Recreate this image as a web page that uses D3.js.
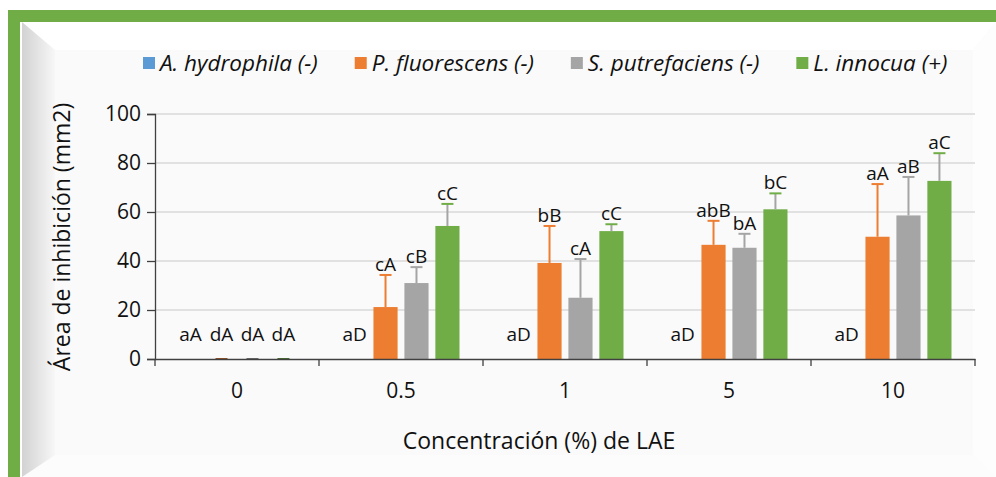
<!DOCTYPE html>
<html>
<head>
<meta charset="utf-8">
<script src="https://cdn.jsdelivr.net/npm/d3@7"></script>
<style>
  body { margin: 0; background: #fff; }
  svg { display: block; font-family: "Open Sans", sans-serif; }
</style>
</head>
<body>
<div id="chart"></div>
<script>
// concentrations of LAE (%)
const categories = ["0", "0.5", "1", "5", "10"];
const seriesNames = ["A. hydrophila (-)", "P. fluorescens (-)", "S. putrefaciens (-)", "L. innocua (+)"];

// mean inhibition area (mm2)
const hydrophila = [0, 0, 0, 0, 0];
const fluorescens = [0, 21.2, 39.2, 46.6, 49.9];
const putrefaciens = [0, 31.0, 25.0, 45.4, 58.6];
const innocua = [0, 54.3, 52.2, 61.1, 72.7];

// standard deviation (blue series has no error bars)
const fluorescensErr = [0, 13.1, 15.1, 9.8, 21.5];
const putrefaciensErr = [0, 6.5, 15.8, 5.7, 15.7];
const innocuaErr = [0, 9.0, 2.8, 6.5, 11.3];

// significance letters
const hydrophilaLab = ["aA", "aD", "aD", "aD", "aD"];
const fluorescensLab = ["dA", "cA", "bB", "abB", "aA"];
const putrefaciensLab = ["dA", "cB", "cA", "bA", "aB"];
const innocuaLab = ["dA", "cC", "cC", "bC", "aC"];

const yTicks = [0, 20, 40, 60, 80, 100];

const colors = ["#5b9bd5", "#ed7d31", "#a5a5a5", "#70ad47"];
const errColors = [null, "#ed7d31", "#a5a5a5", "#a5a5a5"];
const capColors = [null, "#ed7d31", "#a5a5a5", "#70ad47"];

const series = [
  { values: hydrophila, err: null, labels: hydrophilaLab },
  { values: fluorescens, err: fluorescensErr, labels: fluorescensLab },
  { values: putrefaciens, err: putrefaciensErr, labels: putrefaciensLab },
  { values: innocua, err: innocuaErr, labels: innocuaLab }
];

const width = 996, height = 477;
const plot = { left: 155, right: 975, top: 114, bottom: 359 };

const svg = d3.select("#chart").append("svg")
  .attr("width", width)
  .attr("height", height);

// ---- frame / background ----
const defs = svg.append("defs");
const grad = defs.append("linearGradient").attr("id", "leftBevel")
  .attr("x1", "0").attr("x2", "1").attr("y1", "0").attr("y2", "0");
grad.append("stop").attr("offset", "0%").attr("stop-color", "#d2d2d2");
grad.append("stop").attr("offset", "100%").attr("stop-color", "#f7f7f7");

svg.append("rect").attr("x", 0).attr("y", 0).attr("width", width).attr("height", height).attr("fill", "#fff");
// panel + bevels
svg.append("rect").attr("x", 22).attr("y", 22).attr("width", width - 22).attr("height", height - 22).attr("fill", "#fafafa");
svg.append("polygon").attr("points", "22,22 996,22 973,50 55,50").attr("fill", "#ffffff");
svg.append("polygon").attr("points", "973,50 996,22 996,477 973,455").attr("fill", "#fdfdfd");
svg.append("polygon").attr("points", "55,455 973,455 996,477 22,477").attr("fill", "#fcfcfc");
svg.append("polygon").attr("points", "22,22 55,50 55,455 22,477").attr("fill", "url(#leftBevel)");
// green frame
svg.append("rect").attr("x", 8).attr("y", 10).attr("width", width - 8).attr("height", 12).attr("fill", "#70ad47");
svg.append("rect").attr("x", 8).attr("y", 10).attr("width", 12).attr("height", height - 10).attr("fill", "#70ad47");

// ---- scales ----
const x0 = d3.scaleBand().domain(categories).range([plot.left, plot.right]).paddingInner(0).paddingOuter(0);
const x1 = d3.scaleBand().domain(d3.range(series.length)).range([23.5, x0.bandwidth() - 23.5]).paddingInner(0.22);
const y = d3.scaleLinear().domain([0, 100]).range([plot.bottom, plot.top]);

// gridlines
svg.append("g")
  .selectAll("line")
  .data(yTicks.filter(d => d > 0))
  .join("line")
  .attr("x1", plot.left).attr("x2", plot.right)
  .attr("y1", d => y(d)).attr("y2", d => y(d))
  .attr("stroke", "#d9d9d9").attr("stroke-width", 1.5);

// y axis
const yAxis = svg.append("g")
  .attr("transform", `translate(${plot.left},0)`)
  .call(d3.axisLeft(y).tickValues(yTicks).tickSize(8).tickPadding(6));
yAxis.select(".domain").attr("stroke", "#404040").attr("stroke-width", 1.3);
yAxis.selectAll(".tick line").attr("stroke", "#404040").attr("stroke-width", 1.3);
yAxis.selectAll("text").attr("font-size", 21).attr("fill", "#111").attr("font-family", "Open Sans");

// bars
const groups = svg.append("g").selectAll("g")
  .data(categories)
  .join("g")
  .attr("transform", d => `translate(${x0(d)},0)`);

series.forEach((s, si) => {
  groups.append("rect")
    .attr("x", x1(si))
    .attr("width", x1.bandwidth())
    .attr("y", (d, i) => y(s.values[i]))
    .attr("height", (d, i) => y(0) - y(s.values[i]))
    .attr("fill", colors[si]);
});

// x axis
const xAxis = svg.append("g")
  .attr("transform", `translate(0,${plot.bottom})`)
  .call(d3.axisBottom(x0).tickSize(0).tickPadding(24));
xAxis.select(".domain").attr("stroke", "#404040").attr("stroke-width", 1.3);
xAxis.selectAll("text").attr("font-size", 21).attr("fill", "#111").attr("font-family", "Open Sans");
// boundary tick marks between categories
svg.append("g").selectAll("line")
  .data(categories.concat(["end"]))
  .join("line")
  .attr("x1", (d, i) => i < categories.length ? x0(d) : plot.right)
  .attr("x2", (d, i) => i < categories.length ? x0(d) : plot.right)
  .attr("y1", plot.bottom).attr("y2", plot.bottom + 7)
  .attr("stroke", "#404040").attr("stroke-width", 1.3);

// error bars
series.forEach((s, si) => {
  if (!s.err) return;
  groups.each(function (d, i) {
    const g = d3.select(this);
    const cx = x1(si) + x1.bandwidth() / 2;
    const top = y(s.values[i] + s.err[i]);
    g.append("line")
      .attr("x1", cx).attr("x2", cx)
      .attr("y1", y(s.values[i])).attr("y2", top)
      .attr("stroke", errColors[si]).attr("stroke-width", 2);
    g.append("line")
      .attr("x1", cx - 6).attr("x2", cx + 6)
      .attr("y1", top).attr("y2", top)
      .attr("stroke", s.values[i] === 0 ? d3.color(capColors[si]).darker(1.2) : capColors[si])
      .attr("stroke-width", 2);
  });
});

// significance letters
series.forEach((s, si) => {
  groups.append("text")
    .attr("x", x1(si) + x1.bandwidth() / 2)
    .attr("y", (d, i) => {
      const top = y(s.values[i] + (s.err ? s.err[i] : 0));
      return Math.min(top - 4, y(0) - 18);
    })
    .attr("text-anchor", "middle")
    .attr("font-size", 19)
    .attr("fill", "#111")
    .text((d, i) => s.labels[i]);
});

// axis titles
svg.append("text")
  .attr("transform", "translate(70,237) rotate(-90)")
  .attr("text-anchor", "middle")
  .attr("font-size", 23)
  .attr("fill", "#111")
  .text("Área de inhibición (mm2)");

svg.append("text")
  .attr("x", 539).attr("y", 449)
  .attr("text-anchor", "middle")
  .attr("font-size", 23)
  .attr("fill", "#111")
  .text("Concentración (%) de LAE");

// legend
const legend = svg.append("g").attr("transform", "translate(143,63)");
let lx = 0;
seriesNames.forEach((name, i) => {
  const item = legend.append("g").attr("transform", `translate(${lx},0)`);
  item.append("rect").attr("x", 0).attr("y", -6).attr("width", 12).attr("height", 12).attr("fill", colors[i]);
  const t = item.append("text")
    .attr("x", 17).attr("y", 7.5)
    .attr("font-size", 22.5)
    .attr("font-style", "italic")
    .attr("fill", "#111")
    .text(name);
  lx += 17 + t.node().getComputedTextLength() + 37;
});
</script>
</body>
</html>
